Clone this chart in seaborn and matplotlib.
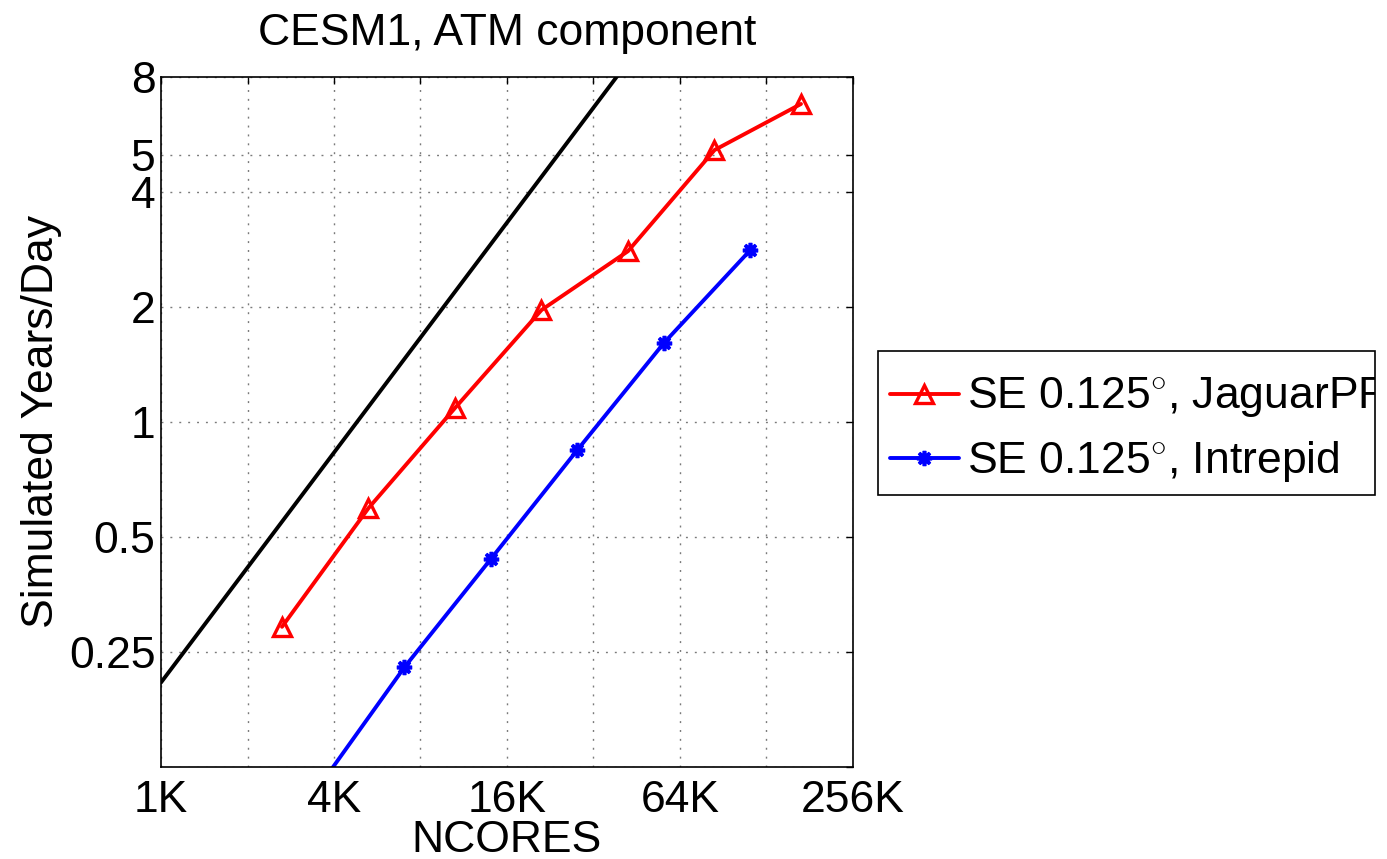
import matplotlib
matplotlib.use("Agg")
import matplotlib.pyplot as plt
from matplotlib.patches import Rectangle
from matplotlib.transforms import Bbox, TransformedBbox
from matplotlib.ticker import NullLocator
import seaborn as sns

# CESM1 atmosphere throughput (simulated years per wall-clock day)
jaguar_label = "SE 0.125$^{\\circ}$, JaguarPF"
jaguar_cores = [2700, 5400, 10800, 21600, 43200, 86400, 172800]
jaguar_sypd = [0.291, 0.595, 1.088, 1.964, 2.80, 5.15, 6.80]

intrepid_label = "SE 0.125$^{\\circ}$, Intrepid"
intrepid_cores = [3600, 7200, 14400, 28800, 57600, 115200]
intrepid_sypd = [0.110, 0.228, 0.438, 0.845, 1.61, 2.82]

# perfect linear scaling reference
ideal_cores = [1024, 65536]
ideal_sypd = [0.208, 13.3]

xtick_values = [1024, 2048, 4096, 8192, 16384, 32768, 65536, 131072, 262144]
xtick_labels = ["1K", "", "4K", "", "16K", "", "64K", "", "256K"]
ytick_values = [0.125, 0.25, 0.5, 1, 2, 4, 5, 8]
ytick_labels = ["", "0.25", "0.5", "1", "2", "4", "5", "8"]

sns.set_theme(style="white", rc={"axes.edgecolor": "black", "axes.linewidth": 1.2,
                                 "text.color": "black", "axes.labelcolor": "black",
                                 "xtick.color": "black", "ytick.color": "black"})
plt.rcParams["font.family"] = ["Liberation Sans", "DejaVu Sans"]
plt.rcParams["mathtext.fontset"] = "custom"
plt.rcParams["mathtext.rm"] = "Liberation Sans"

W, H = 1387, 859
fig = plt.figure(figsize=(W / 100, H / 100), dpi=100)
ax = fig.add_axes([161 / W, 1 - 767 / H, 692 / W, 690 / H])

ax.set_xscale("log", base=2)
ax.set_yscale("log", base=2)

sns.lineplot(x=ideal_cores, y=ideal_sypd, ax=ax, color="black", linewidth=2.8)
sns.lineplot(x=jaguar_cores, y=jaguar_sypd, ax=ax, color="red", linewidth=2.8,
             marker="^", markersize=13, markerfacecolor="none",
             markeredgecolor="red", markeredgewidth=2.4, label=jaguar_label)
sns.lineplot(x=intrepid_cores, y=intrepid_sypd, ax=ax, color="blue", linewidth=2.8,
             marker=(8, 2, 0), markersize=11, markeredgecolor="blue",
             markeredgewidth=2.6, label=intrepid_label)

ax.set_xlim(1024, 262144)
ax.set_ylim(0.125, 8)
ax.set_xticks(xtick_values)
ax.set_xticklabels(xtick_labels)
ax.set_yticks(ytick_values)
ax.set_yticklabels(ytick_labels)
ax.xaxis.set_minor_locator(NullLocator())
ax.yaxis.set_minor_locator(NullLocator())

ax.grid(True, which="major", color="#7a7a7a", linestyle=(0, (1.4, 5.0)), linewidth=1.0)
ax.tick_params(which="major", direction="in", top=True, right=True, length=5,
               width=1, color="black", labelsize=32, labelcolor="black")
ax.tick_params(axis="x", pad=9)
ax.tick_params(axis="y", pad=4)
for s in ax.spines.values():
    s.set_color("black")
    s.set_linewidth(1.2)

ax.set_title("CESM1, ATM component", fontsize=32, pad=23, color="black")
ax.set_xlabel("NCORES", fontsize=32, labelpad=0, color="black")
ax.set_ylabel("Simulated Years/Day", fontsize=32, labelpad=5, color="black")

handles, labels = ax.get_legend_handles_labels()
leg = ax.legend(handles, labels, loc="center left",
                bbox_to_anchor=(890 / W, 1 - 430 / H), bbox_transform=fig.transFigure,
                frameon=False, fontsize=32, borderpad=0, borderaxespad=0,
                handlelength=1.55, handletextpad=0.18, labelspacing=0.42)

box = (878 / W, 1 - 495 / H, 497 / W, 144 / H)
fig.add_artist(Rectangle(box[:2], box[2], box[3], transform=fig.transFigure,
                         fill=False, edgecolor="black", linewidth=1.2))
clip = TransformedBbox(Bbox.from_bounds(*box), fig.transFigure)
for t in leg.get_texts():
    t.set_color("black")
    t.set_clip_box(clip)
    t.set_clip_on(True)

fig.savefig("out.png", dpi=100, facecolor="white")
